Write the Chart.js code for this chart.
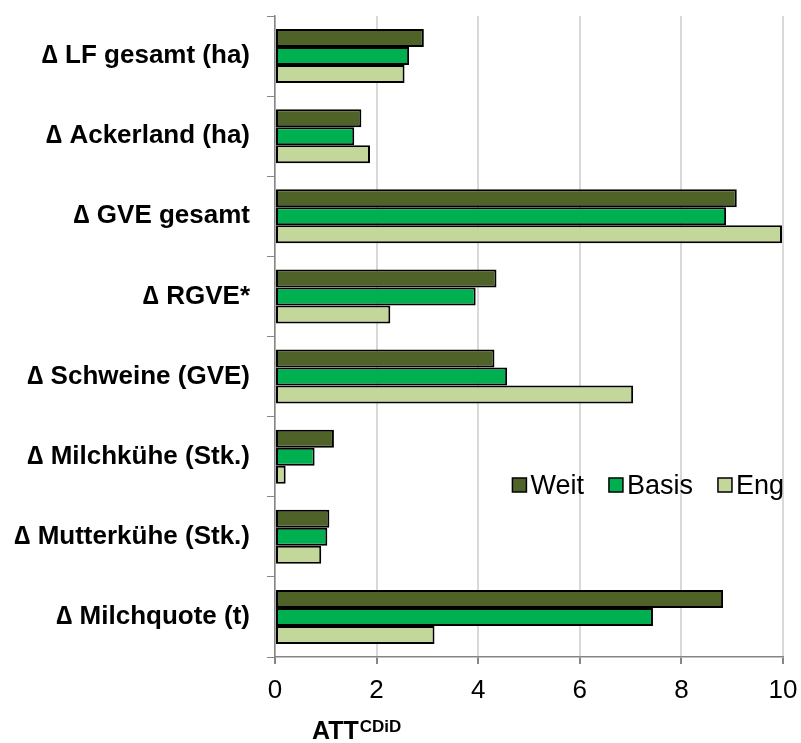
<!DOCTYPE html>
<html>
<head>
<meta charset="utf-8">
<script src="https://cdn.jsdelivr.net/npm/chart.js@4/dist/chart.umd.min.js"></script>
<style>
  body { margin: 0; background: #fff; }
  #wrap { width: 801px; height: 743px; }
</style>
</head>
<body>
<div id="wrap"><canvas id="attChart" width="801" height="743"></canvas></div>
<script>
// values
const categories = [
    "\u2206 LF gesamt (ha)",
    "\u2206 Ackerland (ha)",
    "\u2206 GVE gesamt",
    "\u2206 RGVE*",
    "\u2206 Schweine (GVE)",
    "\u2206 Milchkühe (Stk.)",
    "\u2206 Mutterkühe (Stk.)",
    "\u2206 Milchquote (t)"
];
const weit  = [2.93, 1.70, 9.09, 4.36, 4.32, 1.16, 1.07, 8.82];
const basis = [2.64, 1.56, 8.88, 3.95, 4.57, 0.78, 1.03, 7.44];
const eng   = [2.55, 1.87, 9.98, 2.27, 7.05, 0.21, 0.91, 3.14];
const xTicks = [0, 2, 4, 6, 8, 10];

const FONT = "'Liberation Sans', Arial, sans-serif";

// legend drawn inside the plot, right aligned
const legendInside = {
    id: "legendInside",
    afterDraw(chart) {
        const ctx = chart.ctx;
        const area = chart.chartArea;
        const sets = chart.data.datasets;
        ctx.save();
        ctx.font = "27px " + FONT;
        ctx.textBaseline = "alphabetic";
        const box = 14, gapBox = 4, gapItem = 25;
        let widths = sets.map(d => box + gapBox + ctx.measureText(d.label).width);
        let total = widths.reduce((a, b) => a + b, 0) + gapItem * (sets.length - 1);
        let x = area.right + 1 - total;
        const y = 485;
        sets.forEach((d, i) => {
            ctx.fillStyle = d.backgroundColor;
            ctx.fillRect(x, y - box / 2, box, box);
            ctx.lineWidth = 1.5;
            ctx.strokeStyle = "#000";
            ctx.strokeRect(x, y - box / 2, box, box);
            ctx.fillStyle = "#000";
            ctx.fillText(d.label, x + box + gapBox, 494);
            x += widths[i] + gapItem;
        });
        ctx.restore();
    }
};

// x-axis title with superscript
const axisTitle = {
    id: "axisTitle",
    afterDraw(chart) {
        const ctx = chart.ctx;
        ctx.save();
        ctx.fillStyle = "#000";
        ctx.textBaseline = "alphabetic";
        ctx.font = "bold 25px " + FONT;
        const x0 = 312, base = 739;
        ctx.fillText("ATT", x0, base);
        const w = ctx.measureText("ATT").width;
        ctx.font = "bold 17px " + FONT;
        ctx.fillText("CDiD", x0 + w + 1, base - 7);
        ctx.restore();
    }
};

new Chart(document.getElementById("attChart").getContext("2d"), {
    type: "bar",
    data: {
        labels: categories,
        datasets: [
            { label: "Weit",  data: weit,  backgroundColor: "#4F6228" },
            { label: "Basis", data: basis, backgroundColor: "#00B050" },
            { label: "Eng",   data: eng,   backgroundColor: "#C4D79B" }
        ]
    },
    options: {
        indexAxis: "y",
        responsive: false,
        animation: false,
        layout: { padding: { top: 16, right: 18, bottom: 0, left: 0 } },
        datasets: {
            bar: {
                borderColor: "#000",
                borderWidth: 2,
                borderSkipped: false,
                categoryPercentage: 0.675,
                barPercentage: 1.0
            }
        },
        plugins: {
            legend: { display: false },
            tooltip: { enabled: false }
        },
        scales: {
            x: {
                min: 0,
                max: 10,
                afterBuildTicks(scale) {
                    scale.ticks = xTicks.map(v => ({ value: v }));
                },
                afterFit(scale) {
                    scale.height = 86;
                    scale.paddingLeft = 0;
                    scale.paddingRight = 0;
                },
                grid: {
                    color: "#D9D9D9",
                    lineWidth: 2,
                    tickColor: "#868686",
                    tickLength: 7
                },
                border: { color: "#868686", width: 1.5 },
                ticks: {
                    color: "#000",
                    padding: 11,
                    font: { family: FONT, size: 26 }
                }
            },
            y: {
                afterFit(scale) {
                    scale.width = 275;
                    scale.paddingTop = 0;
                    scale.paddingBottom = 0;
                },
                grid: {
                    drawOnChartArea: false,
                    offset: true,
                    tickColor: "#868686",
                    tickLength: 8
                },
                border: { color: "#868686", width: 1.5 },
                ticks: {
                    color: "#000",
                    padding: 17,
                    font: { family: FONT, size: 26, weight: "bold" }
                }
            }
        }
    },
    plugins: [legendInside, axisTitle]
});
</script>
</body>
</html>
